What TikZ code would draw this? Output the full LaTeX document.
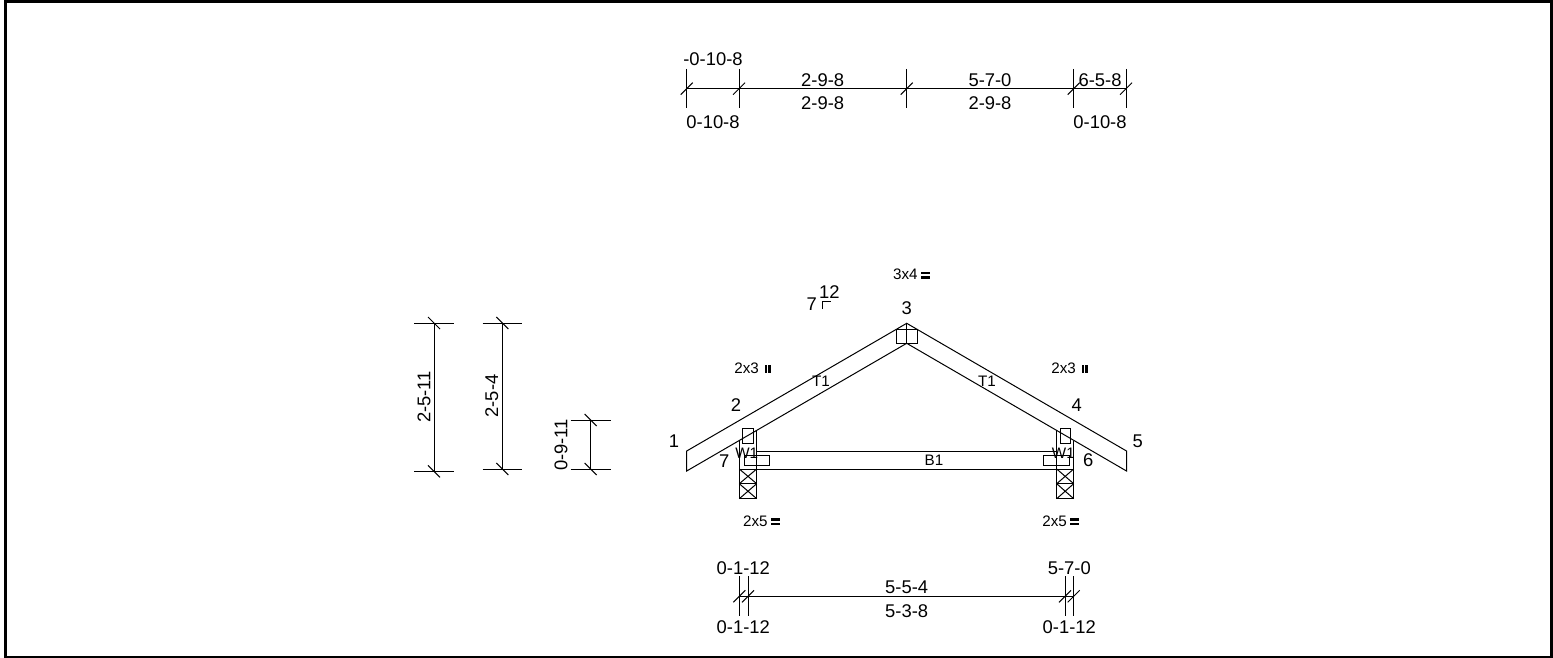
\documentclass[tikz,border=0pt]{standalone}
\usepackage{fontspec}
\setmainfont{Liberation Sans}
\newcommand{\eqmark}{\hspace{1.7pt}\tikz[baseline=0pt,x=1pt,y=1pt]{\fill (0,.45) rectangle (4.5,1.55);\fill (0,2.7) rectangle (4.5,3.8);}}
\newcommand{\iimark}{\hspace{3pt}\tikz[baseline=0pt,x=1pt,y=1pt]{\fill (0,0) rectangle (1.1,3.8);\fill (1.75,0) rectangle (2.85,3.8);}}
\tikzset{
  x=.5pt,y=-.5pt,
  ln/.style={draw=black,line width=.5pt},
  frame/.style={draw=black,line width=1.25pt},
  big/.style={inner sep=0pt,font=\fontsize{9.2}{11}\selectfont},
  small/.style={inner sep=0pt,font=\fontsize{7.6}{9}\selectfont},
}
\newcommand{\tkup}[1]{\draw[ln] ([xshift=-3pt,yshift=-3pt]#1) -- ([xshift=3pt,yshift=3pt]#1);}
\newcommand{\tkdn}[1]{\draw[ln] ([xshift=-3pt,yshift=3pt]#1) -- ([xshift=3pt,yshift=-3pt]#1);}
\begin{document}
\begin{tikzpicture}
\useasboundingbox (0,0) rectangle (1553,658);
% frame
\draw[frame] (5.5,657) -- (5.5,1.7) -- (1551.7,1.7) -- (1551.7,657) -- cycle;
% top dimension
\foreach \n/\x in {ta/686.7,tb/739,tc/906.7,td/1073.7,te/1126}{
  \coordinate (\n) at (\x,88.7);
  \draw[ln] (\x,69) -- (\x,108);
  \tkup{\n}
}
\draw[ln] (ta) -- (tb) -- (tc) -- (td) -- (te);
\node[big] (l1) at (713,59.5) {-0-10-8};
\node[big] (l2) at (822.7,80) {2-9-8};
\node[big] (l3) at (990,80) {5-7-0};
\node[big] (l4) at (1100,80) {6-5-8};
\node[big] (l5) at (713,122) {0-10-8};
\node[big] (l6) at (822.7,103) {2-9-8};
\node[big] (l7) at (990,103) {2-9-8};
\node[big] (l8) at (1100,122) {0-10-8};
% left dimensions
\foreach \n/\x/\xa/\xb/\ya/\yb in {a/434/414.3/454/323/471.3,b/502.3/482.7/522.3/323/469,c/590.7/570.7/610.7/420/469}{
  \coordinate (\n1) at (\x,\ya);
  \coordinate (\n2) at (\x,\yb);
  \draw[ln] (\xa,\ya) -- (\xb,\ya);
  \draw[ln] (\xa,\yb) -- (\xb,\yb);
  \draw[ln] (\n1) -- (\n2);
  \tkdn{\n1}\tkdn{\n2}
}
\node[big,rotate=90] (da) at (424,397) {2-5-11};
\node[big,rotate=90] (db) at (491.7,396) {2-5-4};
\node[big,rotate=90] (dc) at (561,445) {0-9-11};
% truss chords
\draw[ln] (686.7,471) -- (686.7,451) -- (906.7,323.3) -- (1126.5,451) -- (1126.5,471) -- (906.7,343.3) -- cycle;
\draw[ln] (756.7,451) -- (1056.7,451);
\draw[ln] (739.3,469) -- (1073.7,469);
% supports
\draw[ln] (739.3,440.5) -- (739.3,498.7) -- (756.7,498.7) -- (756.7,430.4);
\draw[ln] (1073.7,440.5) -- (1073.7,498.7) -- (1056.7,498.7) -- (1056.7,430.4);
\foreach \xa/\xb in {739.3/756.7,1056.7/1073.7}{
  \draw[ln] (\xa,483.7) -- (\xb,483.7);
  \draw[ln] (\xa,469) -- (\xb,483.7) (\xb,469) -- (\xa,483.7);
  \draw[ln] (\xa,483.7) -- (\xb,498.7) (\xb,483.7) -- (\xa,498.7);
}
% plates
\draw[ln] (742.7,428.3) rectangle (753.3,443.3);
\draw[ln] (744.3,455.3) rectangle (769.3,465.7);
\draw[ln] (1060,428.3) rectangle (1070.3,443.3);
\draw[ln] (1043.7,455.3) rectangle (1069.3,465.7);
\draw[ln] (896.7,329.3) rectangle (917,343.3);
\draw[ln] (906.7,323.3) -- (906.7,343.3);
% slope mark
\draw[ln] (822.3,309) -- (822.3,301.7) -- (830.7,301.7);
% truss labels
\node[big] (n1) at (674,440.7) {1};
\node[big] (n2) at (736,405.5) {2};
\node[big] (n3) at (906.7,308) {3};
\node[big] (n4) at (1076.7,405.5) {4};
\node[big] (n5) at (1137.7,441.7) {5};
\node[big] (n6) at (1088.3,460) {6};
\node[big] (n7) at (724.3,460.7) {7};
\node[big] (s7) at (811.7,304.3) {7};
\node[big] (s12) at (829.3,292.3) {12};
\node[small] (t1) at (821,381) {T1};
\node[small] (t2) at (987,381) {T1};
\node[small] (b1) at (934,460) {B1};
\node[small] (w1) at (746.7,453.3) {W1};
\node[small] (w2) at (1063.3,453.3) {W1};
\node[small,anchor=base west] (p3) at (892.7,279.5) {3x4\eqmark};
\node[small,anchor=base west] (p1) at (742.7,526) {2x5\eqmark};
\node[small,anchor=base west] (p2) at (1042,526) {2x5\eqmark};
\node[small,anchor=base west] (p4) at (734,373) {2x3\iimark};
\node[small,anchor=base west] (p5) at (1051,373) {2x3\iimark};
% bottom dimension
\foreach \n/\x in {ba/739.3,bb/748,bc/1065,bd/1073.7}{
  \coordinate (\n) at (\x,596.3);
  \draw[ln] (\x,576) -- (\x,616);
  \tkup{\n}
}
\draw[ln] (ba) -- (bb) -- (bc) -- (bd);
\node[big] (q1) at (743.3,567.7) {0-1-12};
\node[big] (q2) at (906.7,587.3) {5-5-4};
\node[big] (q3) at (906.7,611) {5-3-8};
\node[big] (q4) at (1069.3,567.7) {5-7-0};
\node[big] (q5) at (743.3,627.3) {0-1-12};
\node[big] (q6) at (1069.3,627.3) {0-1-12};
\end{tikzpicture}
\end{document}
